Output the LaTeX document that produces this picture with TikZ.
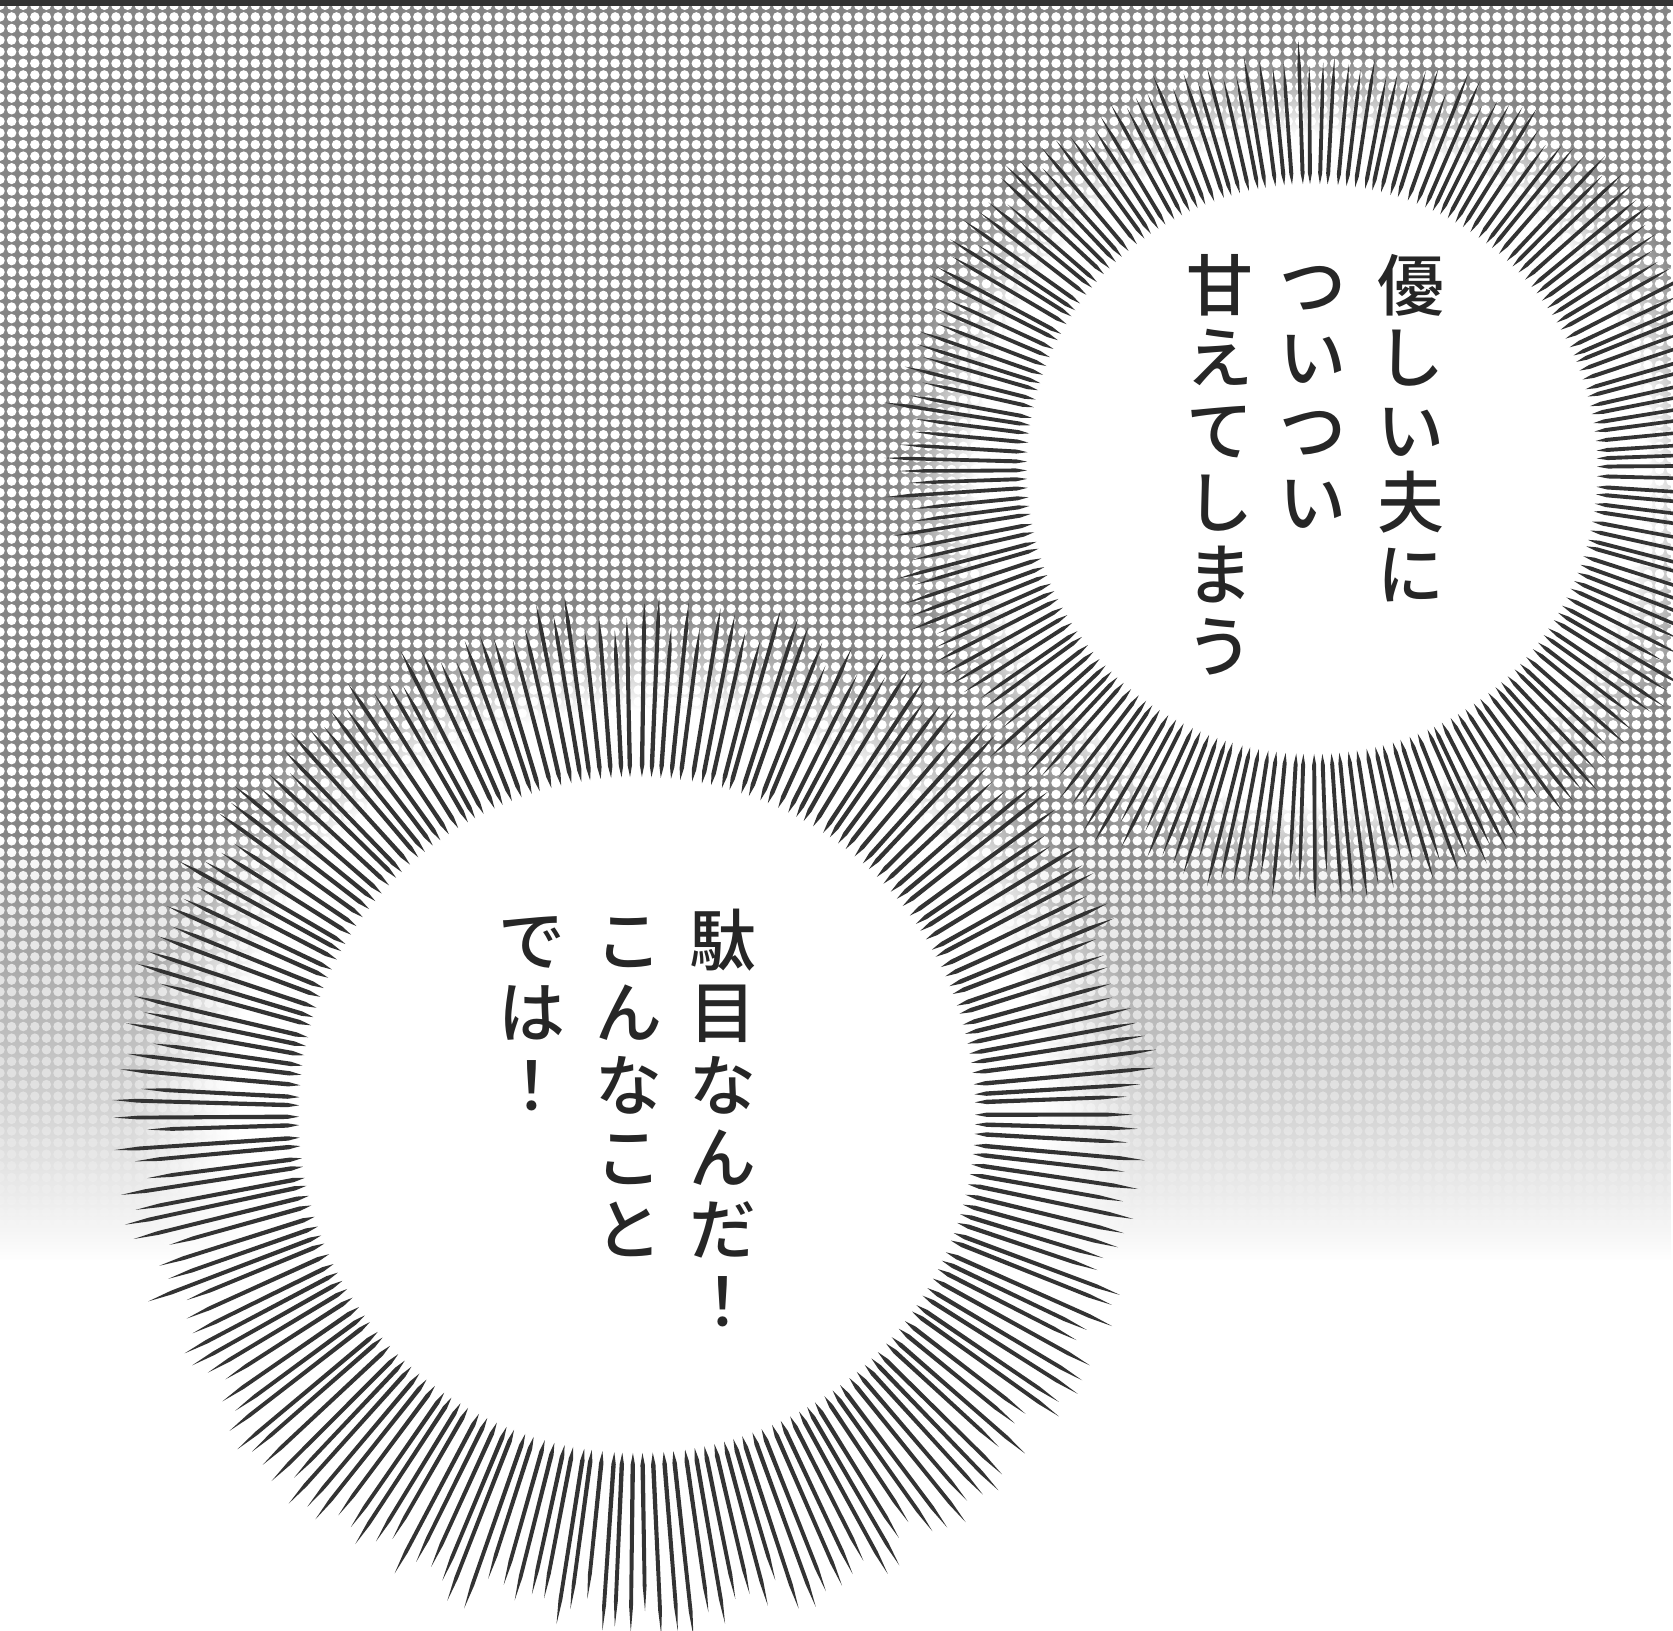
\documentclass[tikz,border=0pt]{standalone}
\usepackage{fontspec}
\newfontfamily\jpfont{Noto Sans CJK JP Medium}
\usetikzlibrary{patterns.meta,fadings}

% tone goes from solid (top) to nothing (bottom)
\pgfdeclareverticalshading{toneshade}{100bp}{color(0bp)=(black); color(25bp)=(black); color(42bp)=(white); color(100bp)=(white)}
\pgfdeclarefading{tonefade}{\pgfuseshading{toneshade}}

\newcommand{\tatestrut}{\rule{0pt}{0.9em}}

\begin{document}
\begin{tikzpicture}[x=0.01cm, y=-0.01cm,
	tone/.style={path fading=tonefade},
	flash/.style={fill=white, path fading=circle with fuzzy edge 20 percent},
	ray/.style={fill=black!80},
	words/.style={font=\jpfont\fontsize{19}{20.5}\selectfont, align=center, inner sep=0pt, anchor=north, text=black!85}]
	\useasboundingbox (0,0) rectangle (1673,1630);
	\clip (0,0) rectangle (1673,1630);
	\fill[white] (0,0) rectangle (1673,1630);
	
	% screentone
	\fill[black!48, tone] (0,0) rectangle (1673,1260);
	\fill[pattern={Dots[distance=3.3pt, radius=1.35pt]}, pattern color=white, tone] (0,0) rectangle (1673,1260);
	\fill[black!80] (0,0) rectangle (1673,6);
	
	% white glow behind both bursts
	\fill[flash] (637,1115) circle [radius=505];
	\fill[flash] (1312,469) circle [radius=415];
	
	% rays of the lower burst
	\pgfmathsetseed{7}
	\begin{scope}[shift={(637,1115)}]
		\foreach \i in {1,...,210}{
			\pgfmathsetmacro{\ang}{\i*1.7142857+rnd*0.5}
			\pgfmathsetmacro{\rout}{485+rnd*40}
			\fill[ray, rotate=\ang] (338,0) -- (350,-2.2) -- (\rout-25,-1.9) -- (\rout,0) -- (\rout-25,1.9) -- (350,2.2) -- cycle;
		}
	\end{scope}
	
	% rays of the upper burst
	\begin{scope}[shift={(1312,469)}]
		\foreach \i in {1,...,200}{
			\pgfmathsetmacro{\ang}{\i*1.8+rnd*0.5}
			\pgfmathsetmacro{\rout}{398+rnd*35}
			\fill[ray, rotate=\ang] (285,0) -- (296,-2) -- (\rout-25,-1.7) -- (\rout,0) -- (\rout-25,1.7) -- (296,2) -- cycle;
		}
	\end{scope}
	
	\node[words] at (1411,250) (yasa) {\tatestrut 優\\し\\い\\夫\\に};
	\node[words] at (1313,250) (tsui) {\tatestrut つ\\い\\つ\\い};
	\node[words] at (1220,250) (amae) {\tatestrut 甘\\え\\て\\し\\ま\\う};
	
	\node[words] at (723,905) (dame) {\tatestrut 駄\\目\\な\\ん\\だ\\！};
	\node[words] at (629,905) (konna) {\tatestrut こ\\ん\\な\\こ\\と};
	\node[words] at (532,905) (dewa) {\tatestrut で\\は\\！};
\end{tikzpicture}
\end{document}
